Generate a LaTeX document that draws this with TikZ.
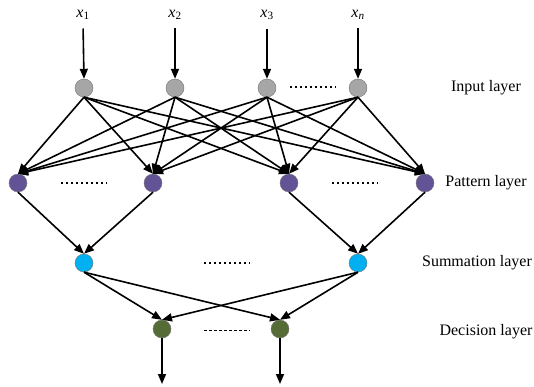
\documentclass[tikz,border=0pt]{standalone}
\usepackage{fontspec}
\setmainfont{Liberation Serif}
\usetikzlibrary{arrows.meta}
\definecolor{inpgray}{RGB}{166,166,166}
\definecolor{patpurple}{RGB}{98,82,150}
\definecolor{sumcyan}{RGB}{0,176,240}
\definecolor{decgreen}{RGB}{86,108,54}
\newcommand{\xin}[1]{\textit{x}\textsubscript{#1}}
\begin{document}
\begin{tikzpicture}[>={Triangle[length=10pt,width=8pt]},x=1pt,y=-1pt,
		neuron/.style={circle,draw=black!55,line width=0.4pt,minimum size=18pt,inner sep=0pt},
		lay/.style={font=\fontsize{16}{18}\selectfont},
		wire/.style={->,line width=1.6pt},
		dotline/.style={line width=2pt,dash pattern=on 2pt off 3pt}]
		\useasboundingbox (0,0) rectangle (534,387);
		% input layer
		\node[neuron,fill=inpgray] (i1) at (84,88) {};
		\node[neuron,fill=inpgray] (i2) at (175,88) {};
		\node[neuron,fill=inpgray] (i3) at (267,88) {};
		\node[neuron,fill=inpgray] (i4) at (358,88) {};
		\node[lay] (x1) at (83,15) {\xin{1}};
		\node[lay] (x2) at (175,15) {\xin{2}};
		\node[lay] (x3) at (267,15) {\xin{3}};
		\node[lay] (x4) at (358,15) {\xin{\textit{n}}};
		% pattern layer
		\node[neuron,fill=patpurple] (p1) at (18,183) {};
		\node[neuron,fill=patpurple] (p2) at (153,183) {};
		\node[neuron,fill=patpurple] (p3) at (289,183) {};
		\node[neuron,fill=patpurple] (p4) at (425,183) {};
		% summation layer
		\node[neuron,fill=sumcyan] (s1) at (84,263) {};
		\node[neuron,fill=sumcyan] (s2) at (358,263) {};
		% decision layer
		\node[neuron,fill=decgreen] (d1) at (162,329) {};
		\node[neuron,fill=decgreen] (d2) at (280,329) {};
		\coordinate (o1) at (162,384);
		\coordinate (o2) at (280,384);
		% layer names
		\node[lay] (nin) at (486,88) {Input layer};
		\node[lay] (npat) at (486,183) {Pattern layer};
		\node[lay] (nsum) at (477,263) {Summation layer};
		\node[lay] (ndec) at (486,332) {Decision layer};
		% dots
		\draw[dotline] (290,87)--(336,87) (61,183)--(107,183) (332,183)--(378,183) (204,263)--(250,263);
		\draw[line width=1pt,dash pattern=on 3pt off 2pt] (204,330)--(250,330);
		% connections
		\foreach \k in {1,...,4}{
			\draw[wire,shorten <=5pt] (x\k.south) -- (i\k.north);
			\foreach \j in {1,...,4}
				\draw[wire] (i\k.south) -- (p\j.north);
		}
		\draw[wire] (p1.south) -- (s1.north);
		\draw[wire] (p2.south) -- (s1.north);
		\draw[wire] (p3.south) -- (s2.north);
		\draw[wire] (p4.south) -- (s2.north);
		\foreach \k in {1,2}{
			\draw[wire] (s\k.south) -- (d1.north);
			\draw[wire] (s\k.south) -- (d2.north);
			\draw[wire] (d\k.south) -- (o\k);
		}
	\end{tikzpicture}
\end{document}
